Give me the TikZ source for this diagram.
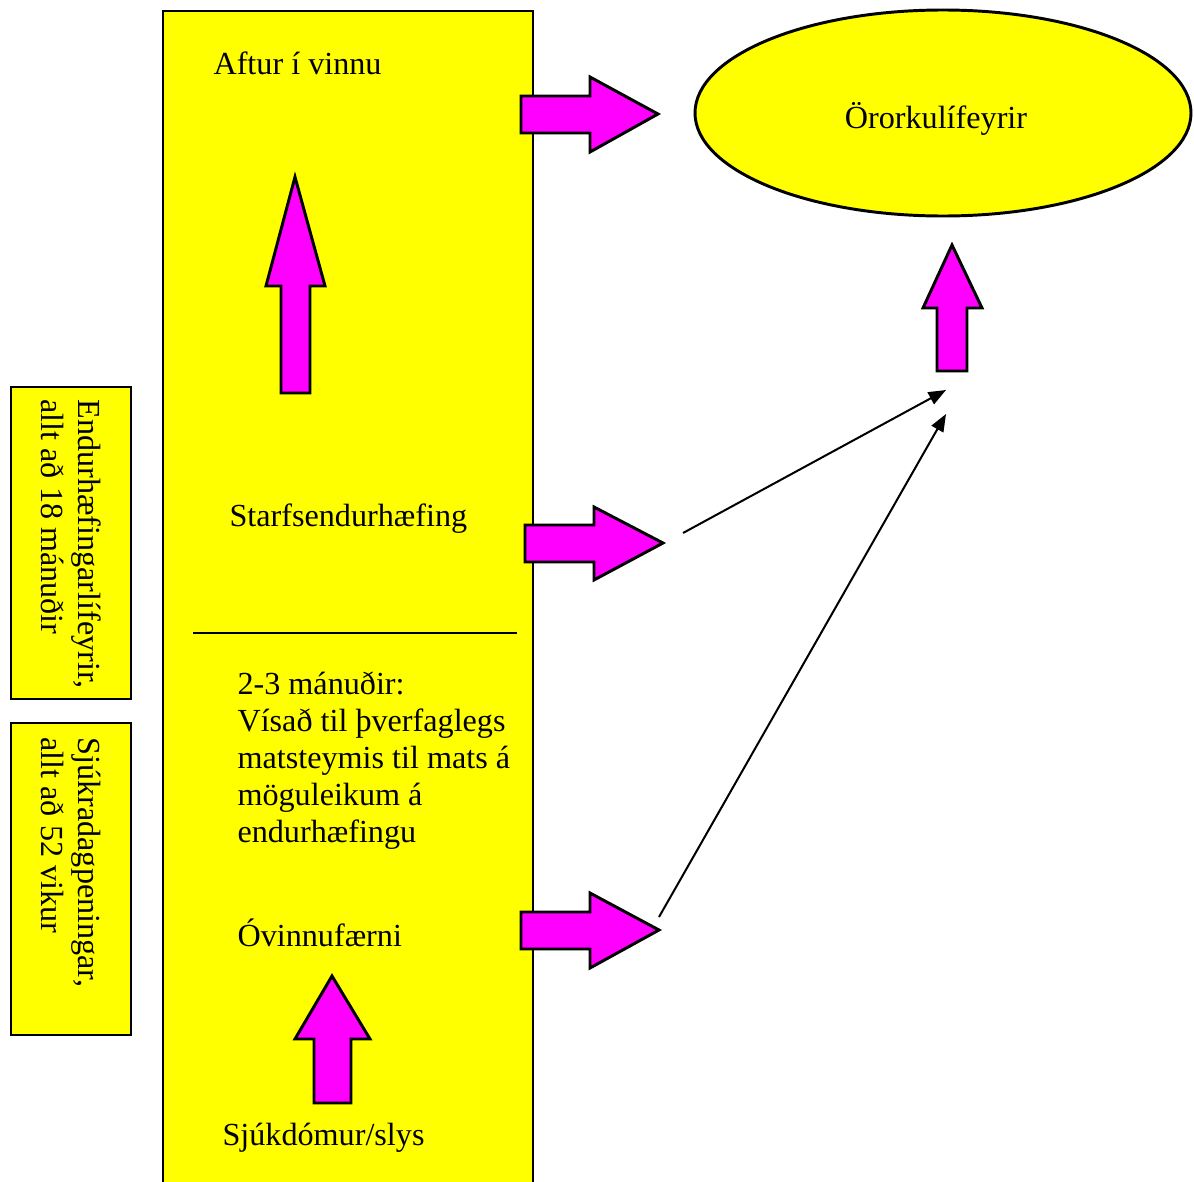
\documentclass[tikz,border=0pt]{standalone}
\usepackage{fontspec}
\setmainfont{Liberation Serif}
\usetikzlibrary{arrows.meta}

\definecolor{boxyellow}{RGB}{255,255,0}
\definecolor{arrowpink}{RGB}{255,0,255}

\tikzset{
  lbl/.style={inner sep=0pt, font=\fontsize{12}{13.8}\selectfont},
  yellowbox/.style={draw, fill=boxyellow, line width=1.1pt},
  blockarrow/.style={draw, fill=arrowpink, line width=1.1pt, line join=miter},
  thinarrow/.style={line width=0.75pt, -{Triangle[length=6.5pt,width=5pt]}}
}

\begin{document}
\begin{tikzpicture}[x=0.373pt,y=0.373pt,yscale=-1,xscale=1]
\useasboundingbox (0,0) rectangle (1194,1182);

%Main column
\draw [yellowbox] (163,11) rectangle (533,1195) ;
%Straight Lines
\draw [line width=1pt] (193,633) -- (517,633) ;

%Side box: rehab pension
\draw [yellowbox] (11,387) rectangle (131,699) ;
%Side box: sickness benefit
\draw [yellowbox] (11,723) rectangle (131,1035) ;

%Ellipse
\draw [yellowbox] (943,113) ellipse [x radius=248, y radius=103] ;

%Up Arrow (work)
\draw [blockarrow] (281,393) -- (281,286) -- (266,286) -- (295,177) -- (325,286) -- (310,286) -- (310,393) -- cycle ;
%Up Arrow (illness)
\draw [blockarrow] (314,1103) -- (314,1039) -- (295,1039) -- (332,976) -- (370,1039) -- (351,1039) -- (351,1103) -- cycle ;
%Up Arrow (pension)
\draw [blockarrow] (937,371) -- (937,308) -- (923,308) -- (952,245) -- (982,308) -- (967,308) -- (967,371) -- cycle ;

%Right Arrow (top)
\draw [blockarrow] (521,96) -- (590,96) -- (590,77) -- (658,114) -- (590,152) -- (590,133) -- (521,133) -- cycle ;
%Right Arrow (middle)
\draw [blockarrow] (525,525) -- (594,525) -- (594,507) -- (663,543) -- (594,580) -- (594,562) -- (525,562) -- cycle ;
%Right Arrow (bottom)
\draw [blockarrow] (521,912) -- (590,912) -- (590,893) -- (659,930) -- (590,968) -- (590,949) -- (521,949) -- cycle ;

%Connector ends
\coordinate (rehabOut) at (683,533) ;
\coordinate (inabOut) at (659,917) ;
\coordinate (penIn1) at (946,390) ;
\coordinate (penIn2) at (946,414) ;
%Straight Lines
\draw [thinarrow] (rehabOut) -- (penIn1) ;
%Straight Lines
\draw [thinarrow] (inabOut) -- (penIn2) ;

% Text Node
\node [lbl, anchor=west] (aftur) at (213,63) {Aftur í vinnu};
% Text Node
\node [lbl, anchor=west] (starfs) at (229,519) {Starfsendurhæfing};
% Text Node
\node [lbl, anchor=north west, align=left] (manudir) at (237,671) {2-3 mánuðir:\\Vísað til þverfaglegs\\matsteymis til mats á\\möguleikum á\\endurhæfingu};
% Text Node
\node [lbl, anchor=west] (ovinnu) at (237,933) {Óvinnufærni};
% Text Node
\node [lbl, anchor=west] (sjuk) at (222,1138) {Sjúkdómur/slys};
% Text Node
\node [lbl] (oror) at (936,119) {Örorkulífeyrir};
% Text Node
\node [lbl, rotate=-90, anchor=west, align=left] (endurh) at (71,399) {Endurhæfingarlífeyrir,\\allt að 18 mánuðir};
% Text Node
\node [lbl, rotate=-90, anchor=west, align=left] (sjukra) at (71,737) {Sjúkradagpeningar,\\allt að 52 vikur};

\end{tikzpicture}
\end{document}
